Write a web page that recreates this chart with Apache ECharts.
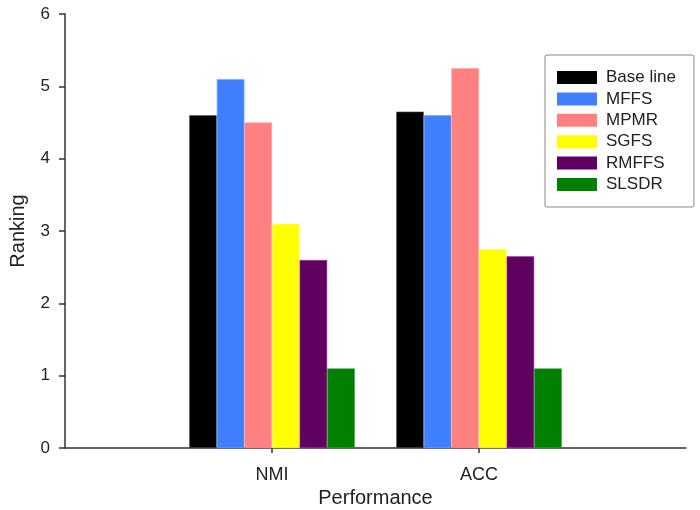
<!DOCTYPE html>
<html>
<head>
<meta charset="utf-8">
<script src="https://cdn.jsdelivr.net/npm/echarts@6/dist/echarts.min.js"></script>
<style>html,body{margin:0;padding:0;background:#fff;}#c{width:700px;height:510px;}</style>
</head>
<body>
<div id="c"></div>
<script>
var categories = ['', 'NMI', 'ACC', ''];
var seriesNames = ['Base line', 'MFFS', 'MPMR', 'SGFS', 'RMFFS', 'SLSDR'];
var baseLine = [null, 4.6, 4.65, null];
var mffs = [null, 5.1, 4.6, null];
var mpmr = [null, 4.5, 5.25, null];
var sgfs = [null, 3.1, 2.75, null];
var rmffs = [null, 2.6, 2.65, null];
var slsdr = [null, 1.1, 1.1, null];
var yTicks = [0, 1, 2, 3, 4, 5, 6];

var colors = ['#000000', '#4080FF', '#FF8080', '#FFFF00', '#600060', '#008000'];
var borders = ['#555555', '#70A8FF', '#FFA0A0', '#FFFF80', '#A040A0', '#40A040'];
var values = [baseLine, mffs, mpmr, sgfs, rmffs, slsdr];
var font = 'Liberation Sans, Arial, sans-serif';

var chart = echarts.init(document.getElementById('c'), null, {renderer: 'canvas'});
chart.setOption({
  animation: false,
  backgroundColor: '#ffffff',
  grid: {left: 65, right: 14, top: 14, bottom: 62, containLabel: false, outerBoundsMode: 'none'},
  legend: {
    orient: 'vertical',
    left: 545,
    top: 55,
    padding: [14, 18, 14, 12],
    itemWidth: 40,
    itemHeight: 13,
    itemGap: 4.4,
    icon: 'rect',
    borderColor: '#888888',
    borderWidth: 1,
    borderRadius: 2,
    textStyle: {fontFamily: font, fontSize: 17, color: '#222222', padding: [0, 0, 0, 4]},
    data: seriesNames.map(function (n, i) { return {name: n, itemStyle: {color: colors[i], borderWidth: 0}}; })
  },
  xAxis: {
    type: 'category',
    data: categories,
    boundaryGap: false,
    name: 'Performance',
    nameLocation: 'middle',
    nameGap: 32,
    nameTextStyle: {fontFamily: font, fontSize: 20, color: '#222222'},
    axisLine: {lineStyle: {color: '#333333', width: 1.5}},
    axisTick: {show: true, length: 5, inside: false, interval: function (i) { return i === 1 || i === 2; }, lineStyle: {color: '#333333', width: 1.5}},
    axisLabel: {fontFamily: font, fontSize: 18, color: '#222222', margin: 18, interval: 0},
    splitLine: {show: false}
  },
  yAxis: {
    type: 'value',
    min: 0,
    max: 6,
    interval: 1,
    name: 'Ranking',
    nameLocation: 'middle',
    nameGap: 37,
    nameRotate: 90,
    nameTextStyle: {fontFamily: font, fontSize: 20, color: '#222222'},
    axisLine: {show: true, lineStyle: {color: '#333333', width: 1.5}},
    axisTick: {show: true, length: 6, lineStyle: {color: '#333333', width: 1.5}},
    axisLabel: {fontFamily: font, fontSize: 17, color: '#222222', margin: 15,
      formatter: function (v) { return yTicks.indexOf(v) >= 0 ? String(v) : ''; }},
    splitLine: {show: false}
  },
  series: seriesNames.map(function (n, i) {
    return {
      name: n,
      type: 'bar',
      data: values[i],
      barGap: '0%',
      barCategoryGap: '20%',
      itemStyle: {color: colors[i], borderColor: borders[i], borderWidth: 0.6}
    };
  })
});
</script>
</body>
</html>
